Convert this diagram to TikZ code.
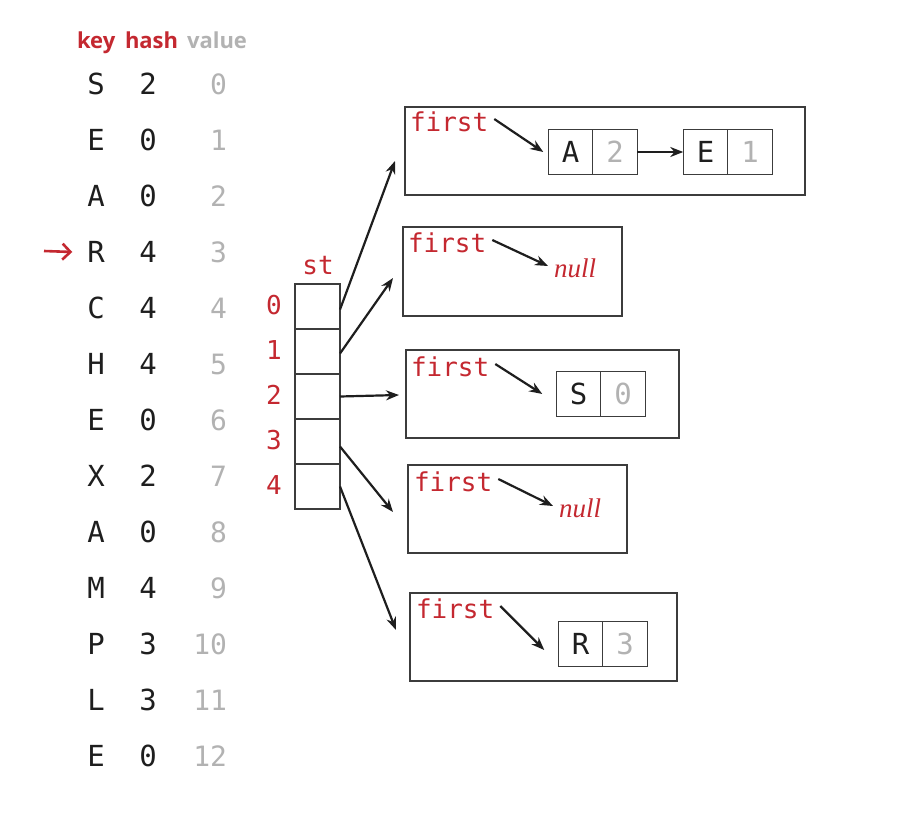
\documentclass[tikz,border=0pt]{standalone}
\usepackage{fontspec}
\setmainfont{DejaVu Sans}
\newfontfamily\monof{DejaVu Sans Mono}
\newfontfamily\headf{Open Sans}
\newfontfamily\nullf{Liberation Serif}
\usetikzlibrary{arrows.meta}
\definecolor{myred}{RGB}{196,40,48}
\definecolor{mygray}{RGB}{178,178,178}
\definecolor{ink}{RGB}{30,30,30}
\definecolor{edge}{RGB}{60,60,60}
\begin{document}
\begin{tikzpicture}[x=1pt,y=-1pt,
  every node/.style={inner sep=0pt,outer sep=0pt},
  head/.style={font=\headf\bfseries\fontsize{22}{22}\selectfont, anchor=base west},
  keyt/.style={font=\monof\fontsize{29}{29}\selectfont, text=ink},
  hasht/.style={font=\monof\fontsize{29}{29}\selectfont, text=ink},
  valt/.style={font=\monof\fontsize{28}{28}\selectfont, text=mygray, anchor=east},
  idx/.style={font=\monof\fontsize{26}{26}\selectfont, text=myred},
  cell/.style={draw=edge, line width=1.4pt, minimum width=45pt, minimum height=45pt},
  lcell/.style={draw=edge, line width=1.4pt, minimum width=44.5pt, minimum height=45pt, font=\monof\fontsize{29}{29}\selectfont, text=ink},
  vcell/.style={lcell, text=mygray},
  bucket/.style={draw=edge, line width=1.7pt, anchor=north west},
  firstt/.style={font=\monof\fontsize{26}{26}\selectfont, text=myred, anchor=west},
  nullt/.style={font=\nullf\itshape\fontsize{27}{27}\selectfont, text=myred},
  ptr/.style={draw=ink, line width=2.2pt, -{Stealth[length=13pt,width=10pt]}}
]
\useasboundingbox (0,0) rectangle (916,816);

% header
\node[head, text=myred] (hk) at (77,49) {key};
\node[head, text=myred] (hh) at (125,49) {hash};
\node[head, text=mygray] (hv) at (187,49) {value};

% table
\foreach \k/\h/\v [count=\i from 0] in {S/2/0,E/0/1,A/0/2,R/4/3,C/4/4,H/4/5,E/0/6,X/2/7,A/0/8,M/4/9,P/3/10,L/3/11,E/0/12}{
  \node[keyt] (k\i) at (96,{84+56*\i}) {\k};
  \node[hasht] (h\i) at (148,{84+56*\i}) {\h};
  \node[valt] (v\i) at (227,{84+56*\i}) {\v};
}
% red pointer
\coordinate (rp) at (44,251);
\draw[draw=myred, line width=2.6pt, -{Straight Barb[length=8pt,width=16pt]}] (rp) -- ([xshift=-15pt]k3.west);

% st array
\node[font=\monof\fontsize{26}{26}\selectfont, text=myred] (stl) at (318,266) {st};
\foreach \i in {0,...,4}{
  \node[cell] (c\i) at (317.5,{306.5+45*\i}) {};
  \node[idx] (n\i) at (274,{305+45*\i}) {\i};
}

% buckets
\node[bucket, minimum width=400pt, minimum height=88pt] (b0) at (405,107) {};
\node[bucket, minimum width=219pt, minimum height=89pt] (b1) at (403,227) {};
\node[bucket, minimum width=273pt, minimum height=88pt] (b2) at (406,350) {};
\node[bucket, minimum width=219pt, minimum height=88pt] (b3) at (408,465) {};
\node[bucket, minimum width=267pt, minimum height=88pt] (b4) at (410,593) {};

% first labels
\node[firstt] (f0) at (410,122) {first};
\node[firstt] (f1) at (408,243) {first};
\node[firstt] (f2) at (411,367) {first};
\node[firstt] (f3) at (414,482) {first};
\node[firstt] (f4) at (416,609) {first};

% list nodes
\node[lcell] (a0) at (570.5,152) {A};
\node[vcell, anchor=west] (a1) at (a0.east) {2};
\node[lcell] (e0) at (705.5,152) {E};
\node[vcell, anchor=west] (e1) at (e0.east) {1};
\node[nullt] (null1) at (575,268) {null};
\node[lcell] (s0) at (578.5,394) {S};
\node[vcell, anchor=west] (s1) at (s0.east) {0};
\node[nullt] (null3) at (580,508) {null};
\node[lcell] (r0) at (580.5,644) {R};
\node[vcell, anchor=west] (r1) at (r0.east) {3};

% first pointers
\draw[ptr] ([shift={(6pt,3pt)}]f0.east) -- ([xshift=-5pt]a0.west);
\draw[ptr] (a1.east) -- (e0.west);
\draw[ptr] ([shift={(6pt,3pt)}]f1.east) -- ([shift={(-6pt,2pt)}]null1.west);
\draw[ptr] ([shift={(6pt,3pt)}]f2.east) -- ([xshift=-14pt]s0.west);
\draw[ptr] ([shift={(6pt,3pt)}]f3.east) -- ([shift={(-6pt,2pt)}]null3.west);
\draw[ptr] ([shift={(6pt,3pt)}]f4.east) -- ([shift={(-14pt,-6pt)}]r0.west);

% table pointers
\coordinate (t0) at (395,161);
\coordinate (t1) at (393,278);
\coordinate (t2) at (399,395);
\coordinate (t3) at (393,512);
\coordinate (t4) at (396,630);
\draw[ptr] ([yshift=-3pt]c0.east) -- (t0);
\draw[ptr] ([yshift=-2pt]c1.east) -- (t1);
\draw[ptr] (c2.east) -- (t2);
\draw[ptr] ([yshift=-5pt]c3.east) -- (t3);
\draw[ptr] (c4.east) -- (t4);
\end{tikzpicture}
\end{document}
